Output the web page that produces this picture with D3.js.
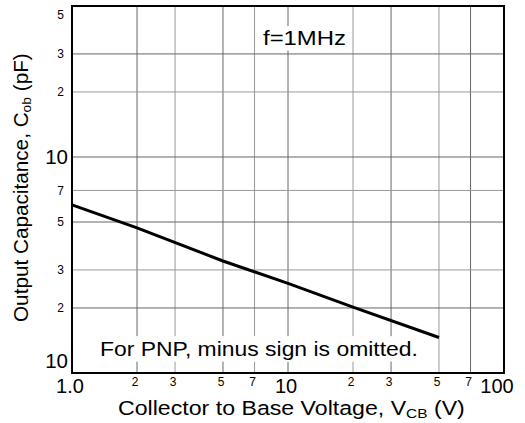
<html>
  <head>
    <script src="https://cdnjs.cloudflare.com/ajax/libs/d3/7.8.5/d3.min.js"></script>
    <style>
      body { margin: 0; background: #fff; }
      svg { display: block; font-family: Arial, "Liberation Sans", sans-serif; }
    </style>
  </head>
  <body>
    <svg width="525" height="423"></svg>
    <script>
      // curve: V_CB (V) -> C_ob (pF)
      const vcb = [1, 2, 5, 10, 20, 50];
      const cob = [6.0, 4.7, 3.3, 2.6, 2.02, 1.46];

      const xGrid = [2, 3, 5, 7, 10, 20, 30, 50, 70];
      const yGrid = [2, 3, 5, 7, 10, 20, 30];
      const xTicks = [
        { v: 1, t: "1.0", big: true }, { v: 2, t: "2" }, { v: 3, t: "3" }, { v: 5, t: "5" }, { v: 7, t: "7" },
        { v: 10, t: "10", big: true }, { v: 20, t: "2" }, { v: 30, t: "3" }, { v: 50, t: "5" }, { v: 70, t: "7" },
        { v: 100, t: "100", big: true }
      ];
      const yTicks = [
        { v: 1, t: "10", big: true }, { v: 2, t: "2" }, { v: 3, t: "3" }, { v: 5, t: "5" }, { v: 7, t: "7" },
        { v: 10, t: "10", big: true }, { v: 20, t: "2" }, { v: 30, t: "3" }, { v: 50, t: "5" }
      ];

      const svg = d3.select("svg");
      const pLeft = 72, pRight = 504, pTop = 6, pBottom = 373;

      const x = d3.scaleLog().domain([1, 100]).range([pLeft, pRight]);
      const y = d3.scaleLog().domain([1, 50]).range([pBottom, pTop]);

      // grid
      svg.append("g").selectAll("line").data(xGrid).join("line")
        .attr("x1", d => x(d)).attr("x2", d => x(d))
        .attr("y1", pTop).attr("y2", pBottom)
        .attr("stroke", (d, i) => i % 2 ? "#999" : "#666").attr("stroke-width", 1);
      svg.append("g").selectAll("line").data(yGrid).join("line")
        .attr("x1", pLeft).attr("x2", pRight)
        .attr("y1", d => y(d)).attr("y2", d => y(d))
        .attr("stroke", (d, i) => i % 2 ? "#999" : "#666").attr("stroke-width", 1);

      // the source lettering is wide: squeeze/stretch a text group to a given width
      function stretch(t, width) {
        const w = t.node().getBBox().width;
        return width / w;
      }

      // notes with white backing
      function note(tx, ty, text, size, width) {
        const g = svg.append("g");
        const t = g.append("text").attr("x", 0).attr("y", 0)
          .attr("font-size", size).attr("fill", "#000").text(text);
        const k = stretch(t, width);
        g.attr("transform", `translate(${tx},${ty}) scale(${k},1)`);
        const b = t.node().getBBox();
        g.insert("rect", "text").attr("x", b.x - 3 / k).attr("y", b.y - 1)
          .attr("width", b.width + 6 / k).attr("height", b.height + 2).attr("fill", "#fff");
      }
      note(263, 45, "f=1MHz", 19.5, 83);
      note(100, 356, "For PNP, minus sign is omitted.", 20.5, 318);

      // curve
      svg.append("path")
        .datum(vcb.map((v, i) => [v, cob[i]]))
        .attr("d", d3.line().x(d => x(d[0])).y(d => y(d[1])))
        .attr("fill", "none").attr("stroke", "#000").attr("stroke-width", 3);

      // frame
      svg.append("rect").attr("x", pLeft).attr("y", pTop)
        .attr("width", pRight - pLeft).attr("height", pBottom - pTop)
        .attr("fill", "none").attr("stroke", "#000").attr("stroke-width", 2);

      // x tick labels
      svg.append("g").selectAll("text").data(xTicks).join("text")
        .attr("x", d => d.v === 100 ? x(d.v) - 7 : x(d.v) - 2)
        .attr("y", d => d.big ? 393 : 386)
        .attr("text-anchor", "middle")
        .attr("font-size", d => d.big ? 20 : 12)
        .text(d => d.t);

      // y tick labels
      svg.append("g").selectAll("text").data(yTicks).join("text")
        .attr("x", d => d.big ? 68 : 64)
        .attr("y", d => d.v === 1 ? y(d.v) - 5 : Math.max(y(d.v), 15))
        .attr("dy", d => d.v === 1 ? 0 : "0.36em")
        .attr("text-anchor", "end")
        .attr("font-size", d => d.big ? 20.5 : 12)
        .text(d => d.t);

      // axis titles
      const xg = svg.append("g");
      const xt = xg.append("text").attr("x", 0).attr("y", 0).attr("font-size", 19.5);
      xt.append("tspan").text("Collector to Base Voltage, V");
      xt.append("tspan").attr("font-size", 13).attr("dy", 3).text("CB");
      xt.append("tspan").attr("dy", -3).text(" (V)");
      xg.attr("transform", `translate(118,415) scale(${stretch(xt, 347)},1)`);

      const yg = svg.append("g");
      const yt = yg.append("text").attr("x", 0).attr("y", 0).attr("font-size", 19.5);
      yt.append("tspan").text("Output Capacitance, C");
      yt.append("tspan").attr("font-size", 13).attr("dy", 3).text("ob");
      yt.append("tspan").attr("dy", -3).text(" (pF)");
      yg.attr("transform", `translate(28,322) rotate(-90) scale(${stretch(yt, 269)},1)`);
    </script>
  </body>
</html>
